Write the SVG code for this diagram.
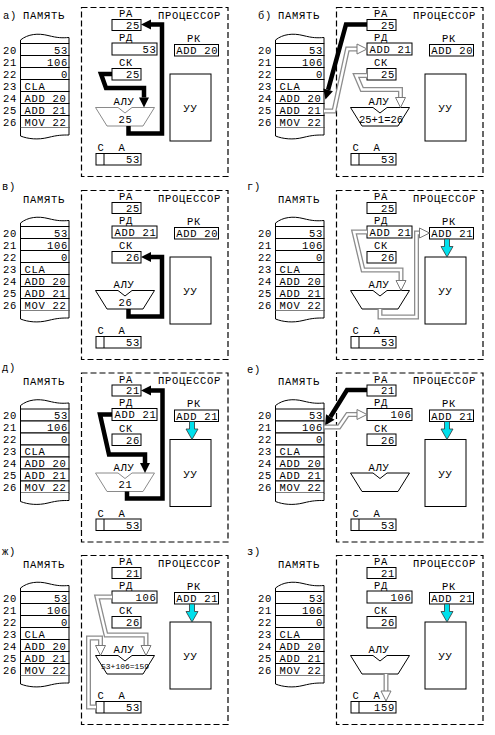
<svg xmlns="http://www.w3.org/2000/svg" width="495" height="735" viewBox="0 0 495 735">
<style>
text{font-family:"Liberation Mono","Courier New",monospace;font-size:10.5px;letter-spacing:0.7px;fill:#000}
.e{text-anchor:end}
.m{text-anchor:middle}
.sm{font-size:8px;letter-spacing:0}
.md{font-size:10.5px;letter-spacing:0}
.box{fill:#fff;stroke:#000;stroke-width:1}
.ln{fill:#fff;stroke:#000;stroke-width:1}
.proc{fill:none;stroke:#000;stroke-width:1.2;stroke-dasharray:6 3}
.alu{fill:#fff;stroke:#000;stroke-width:1}
.alug{fill:#fff;stroke:#8a8a8a;stroke-width:1}
.thick{fill:none;stroke:#000;stroke-width:4.5;stroke-linejoin:miter;marker-end:url(#ah)}
.ho{fill:none;stroke:#8c8c8c;stroke-width:5;stroke-linejoin:miter}
.hi{fill:none;stroke:#fff;stroke-width:2.4;stroke-linejoin:miter;marker-end:url(#hh)}
.cy{fill:#00e0ec;stroke:#333;stroke-width:0.8}
</style>
<defs>
<marker id="ah" markerUnits="userSpaceOnUse" viewBox="0 0 10 10" markerWidth="10" markerHeight="10" refX="0" refY="5" orient="auto" overflow="visible"><path d="M0 0L10 5L0 10Z" fill="#000"/></marker>
<marker id="hh" markerUnits="userSpaceOnUse" viewBox="0 0 10 10" markerWidth="10" markerHeight="10" refX="0" refY="5" orient="auto" overflow="visible"><path d="M0 0L10 5L0 10Z" fill="#fff" stroke="#777" stroke-width="1"/></marker>
</defs>

<!-- ===== Panel а ===== -->
<g id="panel-a">
<g id="a-label"><text x="3" y="18.5">а)</text><text x="23" y="18.5">ПАМЯТЬ</text></g>
<g id="a-memory">
<path class="ln" d="M20.5 43.5V40C28 34 38 33 48 35.5S62 38 69 37.5V43.5"/>
<rect class="box" x="20.5" y="43.5" width="48.5" height="12"/><rect class="box" x="20.5" y="55.5" width="48.5" height="12"/><rect class="box" x="20.5" y="67.5" width="48.5" height="12"/><rect class="box" x="20.5" y="79.5" width="48.5" height="12"/><rect class="box" x="20.5" y="91.5" width="48.5" height="12"/><rect class="box" x="20.5" y="103.5" width="48.5" height="12"/><rect class="box" x="20.5" y="115.5" width="48.5" height="12"/>
<path class="ln" d="M20.5 127.5V136C28 139 38 140 48 137.5S62 135 69 135V127.5"/>
<text x="3" y="53.5">20</text><text x="3" y="65.5">21</text><text x="3" y="77.5">22</text><text x="3" y="89.5">23</text><text x="3" y="101.5">24</text><text x="3" y="113.5">25</text><text x="3" y="125.5">26</text>
<text class="e" x="68" y="53.5">53</text><text class="e" x="68" y="65.5">106</text><text class="e" x="68" y="77.5">0</text><text x="24.5" y="89.5">CLA</text><text x="24.5" y="101.5">ADD 20</text><text x="24.5" y="113.5">ADD 21</text><text x="24.5" y="125.5">MOV 22</text>
</g>
<g id="a-processor"><rect class="proc" x="81.5" y="7.5" width="146.5" height="169"/><text x="158" y="18.5">ПРОЦЕССОР</text></g>
<g id="a-RA"><text class="m" x="126" y="17">РА</text><rect class="box" x="112" y="19.5" width="29" height="11"/><text class="e" x="140" y="28.5">25</text></g>
<g id="a-RD"><text class="m" x="126" y="40.7">РД</text><rect class="box" x="112" y="43" width="45" height="12"/><text class="e" x="156.5" y="52.8">53</text></g>
<g id="a-SK"><text class="m" x="126" y="66">СК</text><rect class="box" x="112" y="68.5" width="29" height="11.5"/><text class="e" x="140" y="78">25</text></g>
<g id="a-RK"><text class="m" x="194" y="41.5">РК</text><rect class="box" x="174.5" y="44.5" width="44" height="11.5"/><text class="e" x="218.3" y="54">ADD 20</text></g>
<g id="a-ALU"><text class="m" x="124" y="105">АЛУ</text><polygon class="alug" points="95.5,107.5 118,107.5 125,113 132,107.5 154.5,107.5 143,126 107,126"/><text class="m" x="125.5" y="122.5">25</text></g>
<g id="a-UU"><rect class="box" x="170" y="74" width="41" height="67"/><text class="m" x="190.5" y="112">УУ</text></g>
<g id="a-A"><text class="m" x="101" y="151">С</text><text class="m" x="122" y="151">А</text><rect class="box" x="96" y="153.5" width="45" height="11.5"/><line x1="104" y1="153.5" x2="104" y2="165" stroke="#000"/><text class="e" x="140" y="163">53</text></g>
<g id="a-connectors">
<path class="thick" d="M128.5 126V133.5H162V24.5H151"/>
<path class="thick" d="M112 74H101L106 88H144V97.5"/>
</g>
</g>

<!-- ===== Panel б ===== -->
<g id="panel-b" transform="translate(255,0)">
<g id="b-label"><text x="3" y="18.5">б)</text><text x="23" y="18.5">ПАМЯТЬ</text></g>
<g id="b-memory">
<path class="ln" d="M20.5 43.5V40C28 34 38 33 48 35.5S62 38 69 37.5V43.5"/>
<rect class="box" x="20.5" y="43.5" width="48.5" height="12"/><rect class="box" x="20.5" y="55.5" width="48.5" height="12"/><rect class="box" x="20.5" y="67.5" width="48.5" height="12"/><rect class="box" x="20.5" y="79.5" width="48.5" height="12"/><rect class="box" x="20.5" y="91.5" width="48.5" height="12"/><rect class="box" x="20.5" y="103.5" width="48.5" height="12"/><rect class="box" x="20.5" y="115.5" width="48.5" height="12"/>
<path class="ln" d="M20.5 127.5V136C28 139 38 140 48 137.5S62 135 69 135V127.5"/>
<text x="3" y="53.5">20</text><text x="3" y="65.5">21</text><text x="3" y="77.5">22</text><text x="3" y="89.5">23</text><text x="3" y="101.5">24</text><text x="3" y="113.5">25</text><text x="3" y="125.5">26</text>
<text class="e" x="68" y="53.5">53</text><text class="e" x="68" y="65.5">106</text><text class="e" x="68" y="77.5">0</text><text x="24.5" y="89.5">CLA</text><text x="24.5" y="101.5">ADD 20</text><text x="24.5" y="113.5">ADD 21</text><text x="24.5" y="125.5">MOV 22</text>
</g>
<g id="b-processor"><rect class="proc" x="81.5" y="7.5" width="146.5" height="169"/><text x="158" y="18.5">ПРОЦЕССОР</text></g>
<g id="b-RA"><text class="m" x="126" y="17">РА</text><rect class="box" x="112" y="19.5" width="29" height="11"/><text class="e" x="140" y="28.5">25</text></g>
<g id="b-RD"><text class="m" x="126" y="40.7">РД</text><rect class="box" x="112" y="43" width="45" height="12"/><text class="e" x="156.5" y="52.8">ADD 21</text></g>
<g id="b-SK"><text class="m" x="126" y="66">СК</text><rect class="box" x="112" y="68.5" width="29" height="11.5"/><text class="e" x="140" y="78">25</text></g>
<g id="b-RK"><text class="m" x="194" y="41.5">РК</text><rect class="box" x="174.5" y="44.5" width="44" height="11.5"/><text class="e" x="218.3" y="54">ADD 20</text></g>
<g id="b-ALU"><text class="m" x="124" y="105">АЛУ</text><polygon class="alu" points="95.5,107.5 118,107.5 125,113 132,107.5 154.5,107.5 143,126 107,126"/><text class="m md" x="126" y="122.5">25+1=26</text></g>
<g id="b-UU"><rect class="box" x="170" y="74" width="41" height="67"/><text class="m" x="190.5" y="112">УУ</text></g>
<g id="b-A"><text class="m" x="101" y="151">С</text><text class="m" x="122" y="151">А</text><rect class="box" x="96" y="153.5" width="45" height="11.5"/><line x1="104" y1="153.5" x2="104" y2="165" stroke="#000"/><text class="e" x="140" y="163">53</text></g>
<g id="b-connectors">
<path class="thick" d="M112 24.5H91L73.1 89.9"/>
<path class="ho" d="M69 111H79L92.5 49H102"/><path class="hi" d="M69 111H79L92.5 49H102"/>
<path class="ho" d="M112 75.5H101L107 89.5H145.5V97.5"/><path class="hi" d="M112 75.5H101L107 89.5H145.5V97.5"/>
</g>
</g>

<!-- ===== Panel в ===== -->
<g id="panel-v" transform="translate(0,183)">
<g id="v-label"><text x="2" y="6.5">в)</text><text x="23" y="19.5">ПАМЯТЬ</text></g>
<g id="v-memory">
<path class="ln" d="M20.5 43.5V40C28 34 38 33 48 35.5S62 38 69 37.5V43.5"/>
<rect class="box" x="20.5" y="43.5" width="48.5" height="12"/><rect class="box" x="20.5" y="55.5" width="48.5" height="12"/><rect class="box" x="20.5" y="67.5" width="48.5" height="12"/><rect class="box" x="20.5" y="79.5" width="48.5" height="12"/><rect class="box" x="20.5" y="91.5" width="48.5" height="12"/><rect class="box" x="20.5" y="103.5" width="48.5" height="12"/><rect class="box" x="20.5" y="115.5" width="48.5" height="12"/>
<path class="ln" d="M20.5 127.5V136C28 139 38 140 48 137.5S62 135 69 135V127.5"/>
<text x="3" y="53.5">20</text><text x="3" y="65.5">21</text><text x="3" y="77.5">22</text><text x="3" y="89.5">23</text><text x="3" y="101.5">24</text><text x="3" y="113.5">25</text><text x="3" y="125.5">26</text>
<text class="e" x="68" y="53.5">53</text><text class="e" x="68" y="65.5">106</text><text class="e" x="68" y="77.5">0</text><text x="24.5" y="89.5">CLA</text><text x="24.5" y="101.5">ADD 20</text><text x="24.5" y="113.5">ADD 21</text><text x="24.5" y="125.5">MOV 22</text>
</g>
<g id="v-processor"><rect class="proc" x="81.5" y="7.5" width="146.5" height="169"/><text x="158" y="18.5">ПРОЦЕССОР</text></g>
<g id="v-RA"><text class="m" x="126" y="17">РА</text><rect class="box" x="112" y="19.5" width="29" height="11"/><text class="e" x="140" y="28.5">25</text></g>
<g id="v-RD"><text class="m" x="126" y="40.7">РД</text><rect class="box" x="112" y="43" width="45" height="12"/><text class="e" x="156.5" y="52.8">ADD 21</text></g>
<g id="v-SK"><text class="m" x="126" y="66">СК</text><rect class="box" x="112" y="68.5" width="29" height="11.5"/><text class="e" x="140" y="78">26</text></g>
<g id="v-RK"><text class="m" x="194" y="41.5">РК</text><rect class="box" x="174.5" y="44.5" width="44" height="11.5"/><text class="e" x="218.3" y="54">ADD 20</text></g>
<g id="v-ALU"><text class="m" x="124" y="105">АЛУ</text><polygon class="alu" points="95.5,107.5 118,107.5 125,113 132,107.5 154.5,107.5 143,126 107,126"/><text class="m" x="125.5" y="122.5">26</text></g>
<g id="v-UU"><rect class="box" x="170" y="74" width="41" height="67"/><text class="m" x="190.5" y="112">УУ</text></g>
<g id="v-A"><text class="m" x="101" y="151">С</text><text class="m" x="122" y="151">А</text><rect class="box" x="96" y="153.5" width="45" height="11.5"/><line x1="104" y1="153.5" x2="104" y2="165" stroke="#000"/><text class="e" x="140" y="163">53</text></g>
<g id="v-connectors">
<path class="thick" d="M128.5 126V133.5H162V74H151"/>
</g>
</g>

<!-- ===== Panel г ===== -->
<g id="panel-g" transform="translate(255,183)">
<g id="g-label"><text x="-8" y="7">г)</text><text x="23" y="19.5">ПАМЯТЬ</text></g>
<g id="g-memory">
<path class="ln" d="M20.5 43.5V40C28 34 38 33 48 35.5S62 38 69 37.5V43.5"/>
<rect class="box" x="20.5" y="43.5" width="48.5" height="12"/><rect class="box" x="20.5" y="55.5" width="48.5" height="12"/><rect class="box" x="20.5" y="67.5" width="48.5" height="12"/><rect class="box" x="20.5" y="79.5" width="48.5" height="12"/><rect class="box" x="20.5" y="91.5" width="48.5" height="12"/><rect class="box" x="20.5" y="103.5" width="48.5" height="12"/><rect class="box" x="20.5" y="115.5" width="48.5" height="12"/>
<path class="ln" d="M20.5 127.5V136C28 139 38 140 48 137.5S62 135 69 135V127.5"/>
<text x="3" y="53.5">20</text><text x="3" y="65.5">21</text><text x="3" y="77.5">22</text><text x="3" y="89.5">23</text><text x="3" y="101.5">24</text><text x="3" y="113.5">25</text><text x="3" y="125.5">26</text>
<text class="e" x="68" y="53.5">53</text><text class="e" x="68" y="65.5">106</text><text class="e" x="68" y="77.5">0</text><text x="24.5" y="89.5">CLA</text><text x="24.5" y="101.5">ADD 20</text><text x="24.5" y="113.5">ADD 21</text><text x="24.5" y="125.5">MOV 22</text>
</g>
<g id="g-processor"><rect class="proc" x="81.5" y="7.5" width="146.5" height="169"/><text x="158" y="18.5">ПРОЦЕССОР</text></g>
<g id="g-RA"><text class="m" x="126" y="17">РА</text><rect class="box" x="112" y="19.5" width="29" height="11"/><text class="e" x="140" y="28.5">25</text></g>
<g id="g-RD"><text class="m" x="126" y="40.7">РД</text><rect class="box" x="112" y="43" width="45" height="12"/><text class="e" x="156.5" y="52.8">ADD 21</text></g>
<g id="g-SK"><text class="m" x="126" y="66">СК</text><rect class="box" x="112" y="68.5" width="29" height="11.5"/><text class="e" x="140" y="78">26</text></g>
<g id="g-RK"><text class="m" x="194" y="41.5">РК</text><rect class="box" x="174.5" y="44.5" width="44" height="11.5"/><text class="e" x="218.3" y="54">ADD 21</text></g>
<g id="g-ALU"><text class="m" x="124" y="105">АЛУ</text><polygon class="alu" points="95.5,107.5 118,107.5 125,113 132,107.5 154.5,107.5 143,126 107,126"/></g>
<g id="g-UU"><rect class="box" x="170" y="74" width="41" height="67"/><text class="m" x="190.5" y="112">УУ</text></g>
<g id="g-A"><text class="m" x="101" y="151">С</text><text class="m" x="122" y="151">А</text><rect class="box" x="96" y="153.5" width="45" height="11.5"/><line x1="104" y1="153.5" x2="104" y2="165" stroke="#000"/><text class="e" x="140" y="163">53</text></g>
<g id="g-connectors">
<path class="ho" d="M112 49H99L108 87H146V97.5"/><path class="hi" d="M112 49H99L108 87H146V97.5"/>
<path class="ho" d="M125 126V134H161.5V50H164.5"/><path class="hi" d="M125 126V134H161.5V50H164.5"/>
<polygon class="cy" points="189.5,56 194.5,56 194.5,63.5 198,63.5 192,74 186,63.5 189.5,63.5"/>
</g>
</g>

<!-- ===== Panel д ===== -->
<g id="panel-d" transform="translate(0,365.5)">
<g id="d-label"><text x="2" y="5.5">д)</text><text x="23" y="19.5">ПАМЯТЬ</text></g>
<g id="d-memory">
<path class="ln" d="M20.5 43.5V40C28 34 38 33 48 35.5S62 38 69 37.5V43.5"/>
<rect class="box" x="20.5" y="43.5" width="48.5" height="12"/><rect class="box" x="20.5" y="55.5" width="48.5" height="12"/><rect class="box" x="20.5" y="67.5" width="48.5" height="12"/><rect class="box" x="20.5" y="79.5" width="48.5" height="12"/><rect class="box" x="20.5" y="91.5" width="48.5" height="12"/><rect class="box" x="20.5" y="103.5" width="48.5" height="12"/><rect class="box" x="20.5" y="115.5" width="48.5" height="12"/>
<path class="ln" d="M20.5 127.5V136C28 139 38 140 48 137.5S62 135 69 135V127.5"/>
<text x="3" y="53.5">20</text><text x="3" y="65.5">21</text><text x="3" y="77.5">22</text><text x="3" y="89.5">23</text><text x="3" y="101.5">24</text><text x="3" y="113.5">25</text><text x="3" y="125.5">26</text>
<text class="e" x="68" y="53.5">53</text><text class="e" x="68" y="65.5">106</text><text class="e" x="68" y="77.5">0</text><text x="24.5" y="89.5">CLA</text><text x="24.5" y="101.5">ADD 20</text><text x="24.5" y="113.5">ADD 21</text><text x="24.5" y="125.5">MOV 22</text>
</g>
<g id="d-processor"><rect class="proc" x="81.5" y="7.5" width="146.5" height="169"/><text x="158" y="18.5">ПРОЦЕССОР</text></g>
<g id="d-RA"><text class="m" x="126" y="17">РА</text><rect class="box" x="112" y="19.5" width="29" height="11"/><text class="e" x="140" y="28.5">21</text></g>
<g id="d-RD"><text class="m" x="126" y="40.7">РД</text><rect class="box" x="112" y="43" width="45" height="12"/><text class="e" x="156.5" y="52.8">ADD 21</text></g>
<g id="d-SK"><text class="m" x="126" y="66">СК</text><rect class="box" x="112" y="68.5" width="29" height="11.5"/><text class="e" x="140" y="78">26</text></g>
<g id="d-RK"><text class="m" x="194" y="41.5">РК</text><rect class="box" x="174.5" y="44.5" width="44" height="11.5"/><text class="e" x="218.3" y="54">ADD 21</text></g>
<g id="d-ALU"><text class="m" x="124" y="105">АЛУ</text><polygon class="alug" points="95.5,107.5 118,107.5 125,113 132,107.5 154.5,107.5 143,126 107,126"/><text class="m" x="125.5" y="122.5">21</text></g>
<g id="d-UU"><rect class="box" x="170" y="74" width="41" height="67"/><text class="m" x="190.5" y="112">УУ</text></g>
<g id="d-A"><text class="m" x="101" y="151">С</text><text class="m" x="122" y="151">А</text><rect class="box" x="96" y="153.5" width="45" height="11.5"/><line x1="104" y1="153.5" x2="104" y2="165" stroke="#000"/><text class="e" x="140" y="163">53</text></g>
<g id="d-connectors">
<path class="thick" d="M112 49H100L109 89H145V97.5"/>
<path class="thick" d="M127 126V133H162.5V25H151"/>
<polygon class="cy" points="189.5,56 194.5,56 194.5,63.5 198,63.5 192,74 186,63.5 189.5,63.5"/>
</g>
</g>

<!-- ===== Panel е ===== -->
<g id="panel-e" transform="translate(255,365.5)">
<g id="e-label"><text x="-8" y="7">е)</text><text x="23" y="19.5">ПАМЯТЬ</text></g>
<g id="e-memory">
<path class="ln" d="M20.5 43.5V40C28 34 38 33 48 35.5S62 38 69 37.5V43.5"/>
<rect class="box" x="20.5" y="43.5" width="48.5" height="12"/><rect class="box" x="20.5" y="55.5" width="48.5" height="12"/><rect class="box" x="20.5" y="67.5" width="48.5" height="12"/><rect class="box" x="20.5" y="79.5" width="48.5" height="12"/><rect class="box" x="20.5" y="91.5" width="48.5" height="12"/><rect class="box" x="20.5" y="103.5" width="48.5" height="12"/><rect class="box" x="20.5" y="115.5" width="48.5" height="12"/>
<path class="ln" d="M20.5 127.5V136C28 139 38 140 48 137.5S62 135 69 135V127.5"/>
<text x="3" y="53.5">20</text><text x="3" y="65.5">21</text><text x="3" y="77.5">22</text><text x="3" y="89.5">23</text><text x="3" y="101.5">24</text><text x="3" y="113.5">25</text><text x="3" y="125.5">26</text>
<text class="e" x="68" y="53.5">53</text><text class="e" x="68" y="65.5">106</text><text class="e" x="68" y="77.5">0</text><text x="24.5" y="89.5">CLA</text><text x="24.5" y="101.5">ADD 20</text><text x="24.5" y="113.5">ADD 21</text><text x="24.5" y="125.5">MOV 22</text>
</g>
<g id="e-processor"><rect class="proc" x="81.5" y="7.5" width="146.5" height="169"/><text x="158" y="18.5">ПРОЦЕССОР</text></g>
<g id="e-RA"><text class="m" x="126" y="17">РА</text><rect class="box" x="112" y="19.5" width="29" height="11"/><text class="e" x="140" y="28.5">21</text></g>
<g id="e-RD"><text class="m" x="126" y="40.7">РД</text><rect class="box" x="112" y="43" width="45" height="12"/><text class="e" x="156.5" y="52.8">106</text></g>
<g id="e-SK"><text class="m" x="126" y="66">СК</text><rect class="box" x="112" y="68.5" width="29" height="11.5"/><text class="e" x="140" y="78">26</text></g>
<g id="e-RK"><text class="m" x="194" y="41.5">РК</text><rect class="box" x="174.5" y="44.5" width="44" height="11.5"/><text class="e" x="218.3" y="54">ADD 21</text></g>
<g id="e-ALU"><text class="m" x="124" y="105">АЛУ</text><polygon class="alu" points="95.5,107.5 118,107.5 125,113 132,107.5 154.5,107.5 143,126 107,126"/></g>
<g id="e-UU"><rect class="box" x="170" y="74" width="41" height="67"/><text class="m" x="190.5" y="112">УУ</text></g>
<g id="e-A"><text class="m" x="101" y="151">С</text><text class="m" x="122" y="151">А</text><rect class="box" x="96" y="153.5" width="45" height="11.5"/><line x1="104" y1="153.5" x2="104" y2="165" stroke="#000"/><text class="e" x="140" y="163">53</text></g>
<g id="e-connectors">
<path class="thick" d="M112 24.5H92L75.3 51.5"/>
<path class="ho" d="M69.5 61.5H84L92.5 49H102"/><path class="hi" d="M69.5 61.5H84L92.5 49H102"/>
<polygon class="cy" points="189.5,56 194.5,56 194.5,63.5 198,63.5 192,74 186,63.5 189.5,63.5"/>
</g>
</g>

<!-- ===== Panel ж ===== -->
<g id="panel-zh" transform="translate(0,548)">
<g id="zh-label"><text x="2" y="7">ж)</text><text x="23" y="19.5">ПАМЯТЬ</text></g>
<g id="zh-memory">
<path class="ln" d="M20.5 43.5V40C28 34 38 33 48 35.5S62 38 69 37.5V43.5"/>
<rect class="box" x="20.5" y="43.5" width="48.5" height="12"/><rect class="box" x="20.5" y="55.5" width="48.5" height="12"/><rect class="box" x="20.5" y="67.5" width="48.5" height="12"/><rect class="box" x="20.5" y="79.5" width="48.5" height="12"/><rect class="box" x="20.5" y="91.5" width="48.5" height="12"/><rect class="box" x="20.5" y="103.5" width="48.5" height="12"/><rect class="box" x="20.5" y="115.5" width="48.5" height="12"/>
<path class="ln" d="M20.5 127.5V136C28 139 38 140 48 137.5S62 135 69 135V127.5"/>
<text x="3" y="53.5">20</text><text x="3" y="65.5">21</text><text x="3" y="77.5">22</text><text x="3" y="89.5">23</text><text x="3" y="101.5">24</text><text x="3" y="113.5">25</text><text x="3" y="125.5">26</text>
<text class="e" x="68" y="53.5">53</text><text class="e" x="68" y="65.5">106</text><text class="e" x="68" y="77.5">0</text><text x="24.5" y="89.5">CLA</text><text x="24.5" y="101.5">ADD 20</text><text x="24.5" y="113.5">ADD 21</text><text x="24.5" y="125.5">MOV 22</text>
</g>
<g id="zh-processor"><rect class="proc" x="81.5" y="7.5" width="146.5" height="169"/><text x="158" y="18.5">ПРОЦЕССОР</text></g>
<g id="zh-RA"><text class="m" x="126" y="17">РА</text><rect class="box" x="112" y="19.5" width="29" height="11"/><text class="e" x="140" y="28.5">21</text></g>
<g id="zh-RD"><text class="m" x="126" y="40.7">РД</text><rect class="box" x="112" y="43" width="45" height="12"/><text class="e" x="156.5" y="52.8">106</text></g>
<g id="zh-SK"><text class="m" x="126" y="66">СК</text><rect class="box" x="112" y="68.5" width="29" height="11.5"/><text class="e" x="140" y="78">26</text></g>
<g id="zh-RK"><text class="m" x="194" y="41.5">РК</text><rect class="box" x="174.5" y="44.5" width="44" height="11.5"/><text class="e" x="218.3" y="54">ADD 21</text></g>
<g id="zh-ALU"><text class="m" x="124" y="105">АЛУ</text><polygon class="alu" points="95.5,107.5 118,107.5 125,113 132,107.5 154.5,107.5 143,126 107,126"/><text class="m sm" x="125" y="121">53+106=159</text></g>
<g id="zh-UU"><rect class="box" x="170" y="74" width="41" height="67"/><text class="m" x="190.5" y="112">УУ</text></g>
<g id="zh-A"><text class="m" x="101" y="151">С</text><text class="m" x="122" y="151">А</text><rect class="box" x="96" y="153.5" width="45" height="11.5"/><line x1="104" y1="153.5" x2="104" y2="165" stroke="#000"/><text class="e" x="140" y="163">53</text></g>
<g id="zh-connectors">
<path class="ho" d="M112 49H97L106 87H146V97.5"/><path class="hi" d="M112 49H97L106 87H146V97.5"/>
<path class="ho" d="M96 159H88.5V90H100.5V97.5"/><path class="hi" d="M96 159H88.5V90H100.5V97.5"/>
<polygon class="cy" points="189.5,56 194.5,56 194.5,63.5 198,63.5 192,74 186,63.5 189.5,63.5"/>
</g>
</g>

<!-- ===== Panel з ===== -->
<g id="panel-z" transform="translate(255,548)">
<g id="z-label"><text x="-8" y="7">з)</text><text x="23" y="19.5">ПАМЯТЬ</text></g>
<g id="z-memory">
<path class="ln" d="M20.5 43.5V40C28 34 38 33 48 35.5S62 38 69 37.5V43.5"/>
<rect class="box" x="20.5" y="43.5" width="48.5" height="12"/><rect class="box" x="20.5" y="55.5" width="48.5" height="12"/><rect class="box" x="20.5" y="67.5" width="48.5" height="12"/><rect class="box" x="20.5" y="79.5" width="48.5" height="12"/><rect class="box" x="20.5" y="91.5" width="48.5" height="12"/><rect class="box" x="20.5" y="103.5" width="48.5" height="12"/><rect class="box" x="20.5" y="115.5" width="48.5" height="12"/>
<path class="ln" d="M20.5 127.5V136C28 139 38 140 48 137.5S62 135 69 135V127.5"/>
<text x="3" y="53.5">20</text><text x="3" y="65.5">21</text><text x="3" y="77.5">22</text><text x="3" y="89.5">23</text><text x="3" y="101.5">24</text><text x="3" y="113.5">25</text><text x="3" y="125.5">26</text>
<text class="e" x="68" y="53.5">53</text><text class="e" x="68" y="65.5">106</text><text class="e" x="68" y="77.5">0</text><text x="24.5" y="89.5">CLA</text><text x="24.5" y="101.5">ADD 20</text><text x="24.5" y="113.5">ADD 21</text><text x="24.5" y="125.5">MOV 22</text>
</g>
<g id="z-processor"><rect class="proc" x="81.5" y="7.5" width="146.5" height="169"/><text x="158" y="18.5">ПРОЦЕССОР</text></g>
<g id="z-RA"><text class="m" x="126" y="17">РА</text><rect class="box" x="112" y="19.5" width="29" height="11"/><text class="e" x="140" y="28.5">21</text></g>
<g id="z-RD"><text class="m" x="126" y="40.7">РД</text><rect class="box" x="112" y="43" width="45" height="12"/><text class="e" x="156.5" y="52.8">106</text></g>
<g id="z-SK"><text class="m" x="126" y="66">СК</text><rect class="box" x="112" y="68.5" width="29" height="11.5"/><text class="e" x="140" y="78">26</text></g>
<g id="z-RK"><text class="m" x="194" y="41.5">РК</text><rect class="box" x="174.5" y="44.5" width="44" height="11.5"/><text class="e" x="218.3" y="54">ADD 21</text></g>
<g id="z-ALU"><text class="m" x="124" y="105">АЛУ</text><polygon class="alu" points="95.5,107.5 118,107.5 125,113 132,107.5 154.5,107.5 143,126 107,126"/></g>
<g id="z-UU"><rect class="box" x="170" y="74" width="41" height="67"/><text class="m" x="190.5" y="112">УУ</text></g>
<g id="z-A"><text class="m" x="101" y="151">С</text><text class="m" x="122" y="151">А</text><rect class="box" x="96" y="153.5" width="45" height="11.5"/><line x1="104" y1="153.5" x2="104" y2="165" stroke="#000"/><text class="e" x="140" y="163">159</text></g>
<g id="z-connectors">
<path class="ho" d="M131 126V143"/><path class="hi" d="M131 126V143"/>
<polygon class="cy" points="189.5,56 194.5,56 194.5,63.5 198,63.5 192,74 186,63.5 189.5,63.5"/>
</g>
</g>
</svg>
